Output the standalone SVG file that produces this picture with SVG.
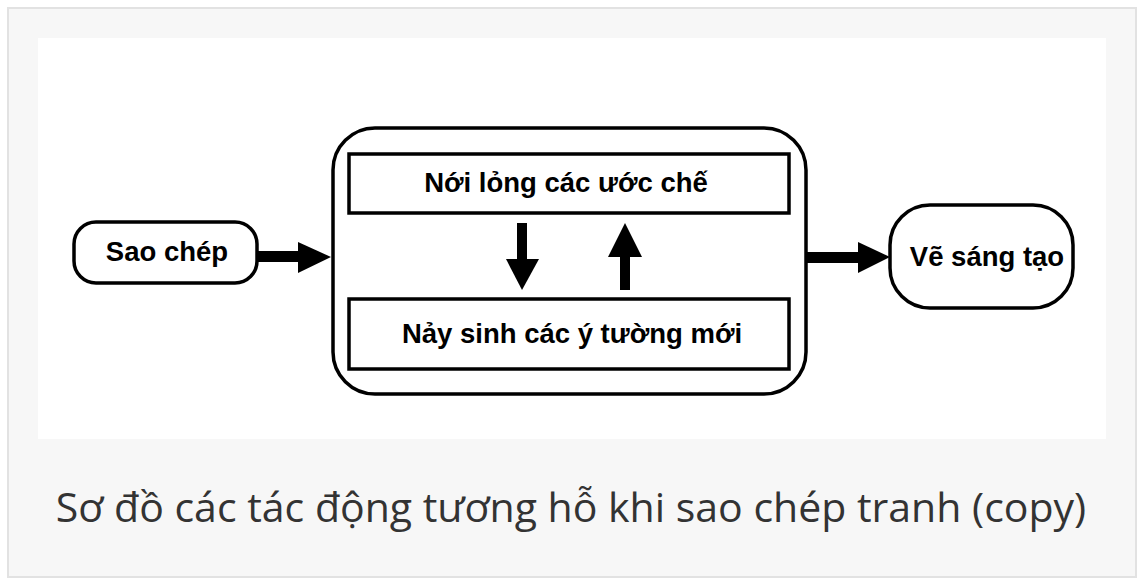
<svg xmlns="http://www.w3.org/2000/svg" width="1144" height="585" viewBox="0 0 1144 585">
<style>
.nt{font-family:"Liberation Sans",Arial,sans-serif;font-weight:bold;font-size:27.5px;fill:#000;text-anchor:middle}
.bx{fill:#fff;stroke:#000;stroke-width:3.5}
.cap{font-family:"Open Sans","Noto Sans",sans-serif;font-size:41px;fill:#333;text-anchor:middle}
</style>
<rect x="0" y="0" width="1144" height="585" fill="#fff"/>
<rect x="8" y="8" width="1128" height="569" fill="#f7f7f7" stroke="#e2e2e2" stroke-width="2"/>
<rect x="38" y="38" width="1068" height="401" fill="#fff"/>
<g id="node-saochep">
<rect class="bx" x="74" y="222" width="183" height="61" rx="22"/>
<text class="nt" x="167" y="261">Sao chép</text>
</g>
<g id="node-center">
<rect class="bx" x="333" y="128" width="473" height="266" rx="42" stroke-width="4"/>
</g>
<g id="node-noilong">
<rect class="bx" x="349" y="154" width="440" height="59" stroke-width="4"/>
<text class="nt" x="566" y="192">Nới lỏng các ước chế</text>
</g>
<g id="node-naysinh">
<rect class="bx" x="349" y="299" width="440" height="70" stroke-width="4"/>
<text class="nt" x="572" y="343">Nảy sinh các ý tường mới</text>
</g>
<g id="node-vesangtao">
<rect class="bx" x="890" y="205" width="183" height="103" rx="40"/>
<text class="nt" x="987" y="266">Vẽ sáng tạo</text>
</g>
<g id="connectors" fill="#000">
<rect x="257" y="251" width="43" height="11"/>
<polygon points="298,242 331,257 298,273"/>
<rect x="517" y="223" width="10" height="38"/>
<polygon points="506,259 539,259 522,290"/>
<rect x="620" y="255" width="10" height="35"/>
<polygon points="608,257 642,257 625,223"/>
<rect x="806" y="252" width="54" height="11"/>
<polygon points="858,242 890,257 858,273"/>
</g>
<text class="cap" x="571" y="522">Sơ đồ các tác động tương hỗ khi sao chép tranh (copy)</text>
</svg>
